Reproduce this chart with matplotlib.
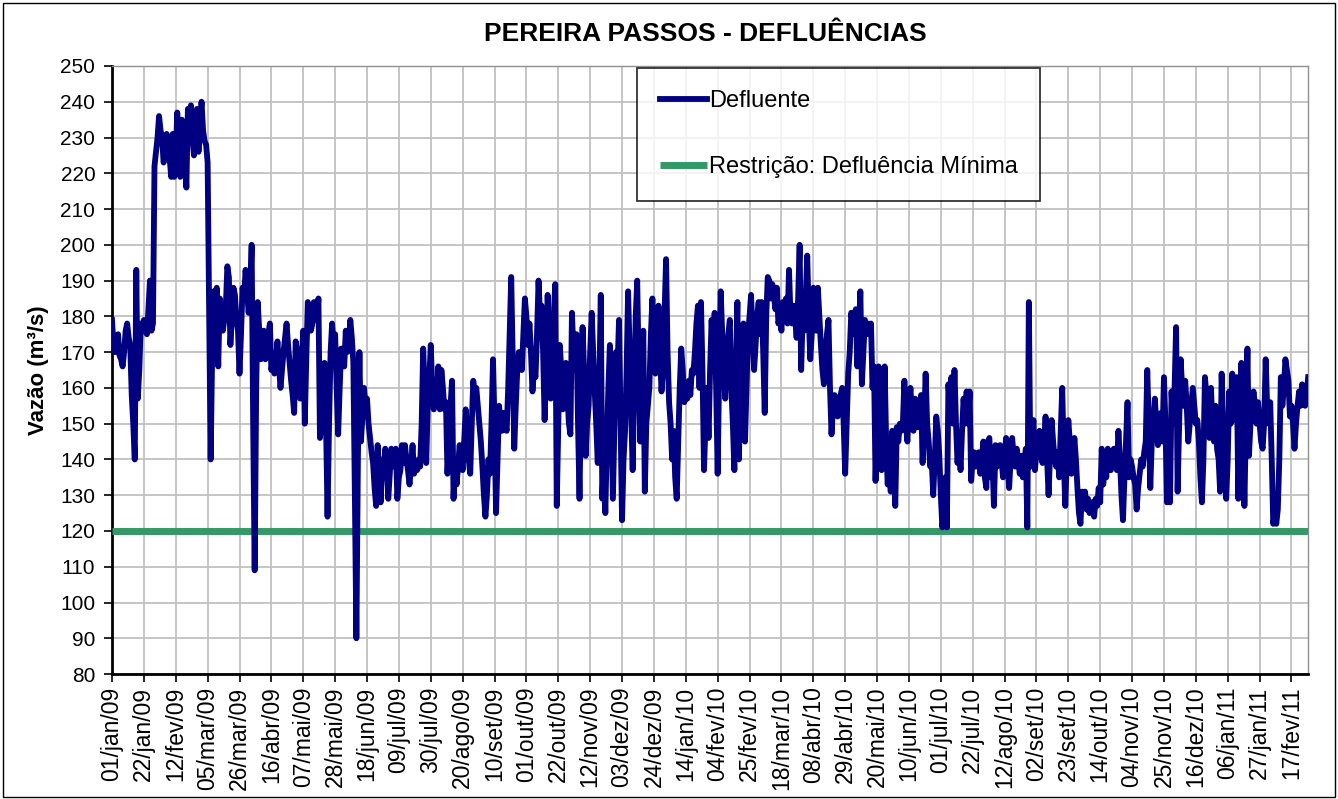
import numpy as np
import pandas as pd
import matplotlib
matplotlib.use("Agg")
import matplotlib.pyplot as plt
from matplotlib.patches import Rectangle

plt.rcParams['font.family'] = ['Liberation Sans', 'DejaVu Sans']

# vazao defluente diaria (m3/s)
vazao_2009 = [
    179, 172, 170, 172, 175, 169, 168, 166, 170, 176,
    178, 174, 172, 158, 150, 140, 193, 157, 165, 178,
    176, 179, 176, 175, 182, 190, 176, 178, 222, 226,
    230, 236, 232, 230, 223, 225, 231, 228, 224, 219,
    231, 219, 225, 237, 228, 219, 235, 230, 226, 216,
    238, 232, 239, 230, 225, 232, 238, 226, 234, 240,
    232, 229, 228, 223, 180, 140, 170, 187, 182, 188,
    166, 185, 180, 176, 179, 183, 194, 191, 172, 180,
    188, 186, 179, 176, 164, 175, 188, 185, 193, 187,
    181, 186, 200, 150, 109, 160, 184, 176, 168, 172,
    176, 168, 170, 175, 178, 165, 168, 164, 168, 173,
    166, 160, 165, 170, 174, 178, 172, 167, 162, 158,
    153, 173, 170, 163, 157, 168, 176, 150, 168, 184,
    180, 176, 178, 184, 182, 179, 185, 146, 150, 160,
    167, 150, 124, 150, 170, 178, 172, 175, 160, 147,
    160, 171, 168, 166, 176, 170, 172, 179, 174, 167,
    130, 90, 140, 170, 145, 152, 160, 155, 157, 150,
    146, 142, 139, 132, 127, 144, 137, 128, 140, 135,
    143, 138, 129, 136, 143, 140, 138, 143, 129, 135,
    137, 144, 139, 144, 140, 137, 133, 138, 144, 136,
    139, 137, 140, 138, 150, 171, 160, 139, 155, 162,
    172, 160, 154, 162, 158, 166, 154, 165, 160, 154,
    156, 136, 145, 155, 162, 129, 140, 133, 138, 144,
    141, 137, 145, 154, 148, 140, 136, 150, 162, 158,
    160, 155, 150, 145, 138, 130, 124, 130, 140, 136,
    150, 168, 150, 125, 140, 155, 150, 148, 153, 150,
    148, 160, 175, 191, 168, 143, 155, 165, 170, 168,
    165, 175, 185, 180, 172, 178, 170, 159, 165, 163,
    175, 190, 180, 183, 170, 151, 165, 186, 172, 157,
    165, 180, 189, 127, 150, 172, 165, 154, 160, 167,
    158, 150, 147, 181, 170, 165, 175, 150, 129, 160,
    177, 165, 141, 150, 155, 170, 181, 170, 159, 150,
    139, 160, 186, 129, 140, 125, 145, 160, 172, 150,
    129, 150, 170, 165, 179, 150, 123, 140, 148, 165,
    187, 170, 154, 137, 160, 180, 190, 165, 145, 160,
    176, 131, 150, 155, 160, 175, 185, 172, 164, 175,
    183, 170, 159, 165, 180,
]

vazao_2010 = [
    196, 170, 156, 150, 140, 148, 135, 129, 145, 160,
    171, 165, 156, 160, 157, 162, 158, 165, 164, 170,
    178, 183, 160, 184, 165, 137, 150, 160, 146, 165,
    179, 170, 181, 160, 136, 165, 187, 175, 165, 157,
    170, 175, 179, 160, 150, 137, 165, 184, 140, 160,
    172, 178, 145, 160, 175, 180, 186, 175, 165, 172,
    180, 184, 175, 184, 170, 153, 180, 191, 190, 185,
    189, 186, 182, 188, 178, 180, 176, 184, 181, 185,
    178, 193, 180, 178, 183, 180, 174, 185, 200, 165,
    180, 176, 185, 197, 180, 168, 175, 188, 180, 176,
    188, 180, 172, 165, 161, 170, 175, 179, 160, 147,
    155, 158, 157, 152, 155, 158, 160, 150, 136, 150,
    164, 170, 181, 178, 175, 182, 166, 175, 187, 161,
    170, 179, 175, 178, 175, 178, 160, 166, 134, 150,
    166, 145, 137, 150, 166, 145, 133, 140, 131, 148,
    140, 127, 149, 145, 150, 148, 150, 162, 150, 145,
    155, 160, 152, 148, 157, 152, 149, 155, 158, 139,
    150, 164, 150, 145, 138, 140, 130, 140, 152, 148,
    141, 130, 121, 125, 135, 121, 161, 155, 163, 150,
    165, 150, 139, 145, 137, 148, 157, 150, 159, 150,
    159, 134, 140, 142, 138, 141, 142, 136, 140, 145,
    135, 132, 145, 146, 135, 140, 127, 144, 138, 141,
    144, 140, 135, 141, 146, 139, 132, 140, 146, 141,
    138, 143, 140, 136, 141, 135, 139, 143, 121, 184,
    138, 145, 151, 137, 142, 145, 148, 141, 139, 144,
    152, 140, 130, 142, 151, 145, 140, 138, 142, 135,
    148, 160, 140, 127, 140, 151, 145, 136, 140, 146,
    140, 132, 125, 122, 131, 127, 131, 126, 129, 125,
    128, 128, 124, 129, 127, 132, 128, 143, 133, 139,
    135, 143, 140, 137, 142, 143, 140, 137, 148, 140,
    130, 123, 135, 145, 156, 135, 140, 138, 135, 133,
    126, 132, 136, 140, 138, 142, 145, 165, 150, 132,
    145, 150, 157, 150, 144, 148, 153, 145, 163, 150,
    128, 135, 128, 159, 150, 160, 177, 131, 150, 168,
    160, 155, 162, 155, 145, 150, 155, 160, 155, 150,
    151, 145, 135, 128, 140, 163, 158, 150, 146, 160,
    148, 145, 155, 143, 140,
]

vazao_2011 = [
    131, 164, 150, 145, 129, 140, 159, 150, 164, 151,
    155, 163, 129, 150, 167, 150, 127, 150, 171, 141,
    150, 155, 159, 155, 150, 156, 150, 145, 143, 150,
    168, 155, 150, 156, 140, 122, 125, 122, 126, 140,
    163, 155, 160, 168, 165, 162, 152, 155, 150, 143,
    150, 155, 159, 155, 161, 157, 155, 158, 163,
]

defluencia_minima = 120
meses = ['jan', 'fev', 'mar', 'abr', 'mai', 'jun',
         'jul', 'ago', 'set', 'out', 'nov', 'dez']

vazao = vazao_2009 + vazao_2010 + vazao_2011
datas = pd.date_range('2009-01-01', periods=len(vazao), freq='D')
minima = [defluencia_minima] * len(vazao)

fig = plt.figure(figsize=(13.38, 7.99), dpi=100)
ax = fig.add_axes([0.0837, 0.1564, 0.894, 0.761])

ax.plot(datas, minima, color='#339966', lw=5, solid_capstyle='butt',
        label='Restrição: Defluência Mínima', zorder=3)
ax.plot(datas, vazao, color='#000080', lw=4.2, solid_joinstyle='round',
        label='Defluente', zorder=4)

ax.set_xlim(datas[0], datas[-1])
ax.set_ylim(80, 250)
ax.set_yticks(np.arange(80, 251, 10))

ticks = datas[::21]
ax.set_xticks(ticks)
ax.set_xticklabels(['%02d/%s/%s' % (d.day, meses[d.month - 1], d.strftime('%y')) for d in ticks],
                   rotation=90)
ax.tick_params(axis='both', direction='out', length=6, width=1.2, color='black')
ax.tick_params(axis='y', labelsize=15, pad=6)
ax.tick_params(axis='x', labelsize=16.5, pad=3)

ax.grid(True, color='#c0c0c0', lw=1.3)
ax.set_axisbelow(True)
for s in ['top', 'right']:
    ax.spines[s].set_color('#909090')
    ax.spines[s].set_linewidth(1)
for s in ['left', 'bottom']:
    ax.spines[s].set_color('black')
    ax.spines[s].set_linewidth(2)

ax.set_ylabel('Vazão (m³/s)', fontsize=16, fontweight='bold')
ax.yaxis.set_label_coords(-0.053, 0.5)
fig.text(0.527, 0.958, 'PEREIRA PASSOS - DEFLUÊNCIAS', ha='center', va='center',
         fontsize=19, fontweight='bold')

h, l = ax.get_legend_handles_labels()
leg = ax.legend(h[::-1], l[::-1], loc='upper left', bbox_to_anchor=(0.439, 0.9967),
                fontsize=17, frameon=True, fancybox=False, edgecolor='black',
                labelspacing=1.85, handlelength=2.0, handletextpad=0.1,
                borderpad=0.95, borderaxespad=0)
leg.get_frame().set_linewidth(1.3)

fig.patches.append(Rectangle((0.002, 0.002), 0.996, 0.994, transform=fig.transFigure,
                             fill=False, edgecolor='black', lw=1))

fig.savefig('out.png', dpi=100)
